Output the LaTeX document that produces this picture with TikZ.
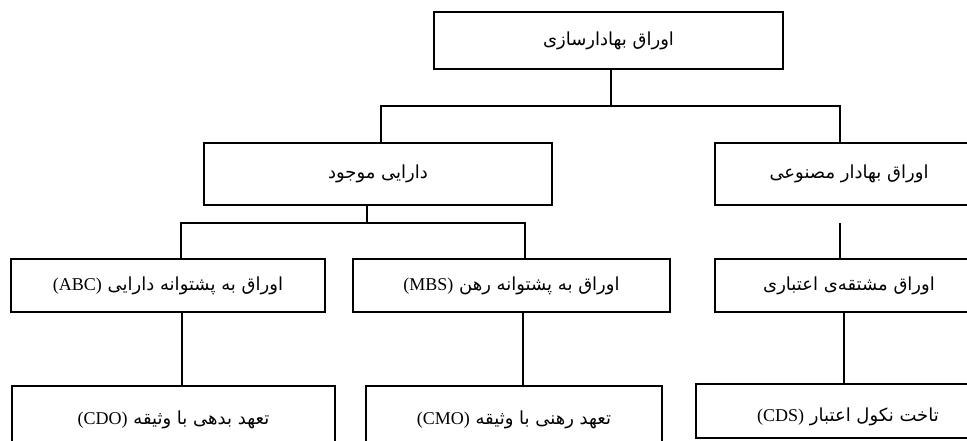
\documentclass[tikz,border=0pt]{standalone}
\usepackage{fontspec}
\TeXXeTstate=1
\newfontfamily\arabicfont[Script=Arabic]{DejaVu Sans}
\newfontfamily\latinfont{Liberation Serif}
\newcommand{\fa}[1]{{\arabicfont\fontsize{13.5pt}{16pt}\selectfont\beginR #1\endR}}
\newcommand{\lat}[1]{\beginL{\latinfont\fontsize{13.5pt}{16pt}\selectfont #1}\endL}
\begin{document}
\begin{tikzpicture}[x=0.75pt,y=-0.75pt,
  boxnode/.style={draw=black,line width=1.5pt,rectangle,inner sep=0pt,align=center,fill=white},
  link/.style={draw=black,line width=1.5pt}]
\useasboundingbox (0,0) rectangle (967,441);
\fill[white] (0,0) rectangle (967,441);
\clip (0,0) rectangle (967,441);
% nodes
\node[boxnode,minimum width=261.75pt,minimum height=42.75pt] (top) at (608.5,40.5) {\fa{اوراق بهادارسازی}};
\node[boxnode,minimum width=261pt,minimum height=46.5pt] (A) at (378,174) {\fa{دارایی موجود}};
\node[boxnode,minimum width=201pt,minimum height=46.5pt] (B) at (849,174) {\fa{اوراق بهادار مصنوعی}};
\node[boxnode,minimum width=235.5pt,minimum height=39.75pt] (ABC) at (168,285.5) {\fa{اوراق به پشتوانه دارایی \lat{(ABC)}}};
\node[boxnode,minimum width=237.75pt,minimum height=39.75pt] (MBS) at (511.5,285.5) {\fa{اوراق به پشتوانه رهن \lat{(MBS)}}};
\node[boxnode,minimum width=201pt,minimum height=39.75pt] (DRV) at (849,285.5) {\fa{اوراق مشتقه‌ی اعتباری}};
\node[boxnode,minimum width=242.25pt,minimum height=51pt] (CDO) at (173.5,420) {\fa{تعهد بدهی با وثیقه \lat{(CDO)}}};
\node[boxnode,minimum width=222pt,minimum height=51pt] (CMO) at (514,420) {\fa{تعهد رهنی با وثیقه \lat{(CMO)}}};
\node[boxnode,minimum width=228pt,minimum height=40.5pt,text height=16pt,text depth=0pt] (CDS) at (848,411) {\fa{تاخت نکول اعتبار \lat{(CDS)}}};
% junction coordinates
\coordinate (j0) at (611,106);
\coordinate (b1L) at (381,106);
\coordinate (b1R) at (840,106);
\coordinate (b2M) at (367,223);
\coordinate (b2L) at (181,223);
\coordinate (b2R) at (525,223);
\coordinate (gB) at (840,223);
\coordinate (xc) at (182,0);
\coordinate (xm) at (523,0);
\coordinate (xd) at (844,0);
% connectors
\draw[link] (top.south -| j0) -- (j0);
\draw[link] (A.north -| b1L) -- (b1L) -- (b1R) -- (B.north -| b1R);
\draw[link] (A.south -| b2M) -- (b2M);
\draw[link] (ABC.north -| b2L) -- (b2L) -- (b2R) -- (MBS.north -| b2R);
\draw[link] (gB) -- (DRV.north -| gB);
\draw[link] (ABC.south -| xc) -- (CDO.north -| xc);
\draw[link] (MBS.south -| xm) -- (CMO.north -| xm);
\draw[link] (DRV.south -| xd) -- (CDS.north -| xd);
\end{tikzpicture}
\end{document}
